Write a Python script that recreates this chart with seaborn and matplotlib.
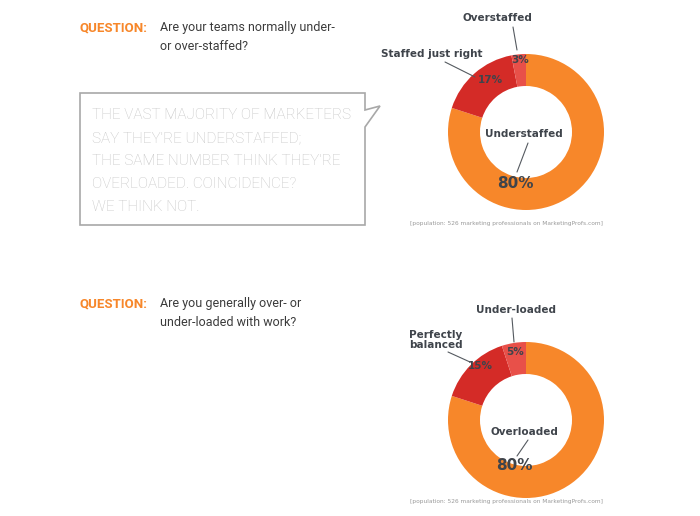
import matplotlib
matplotlib.use("Agg")
import matplotlib.pyplot as plt
import seaborn as sns
from matplotlib.patches import Polygon

sns.set_theme(style="white")

chart1_labels = ["Understaffed", "Staffed just right", "Overstaffed"]
chart1_values = [80, 17, 3]
chart2_labels = ["Overloaded", "Perfectly\nbalanced", "Under-loaded"]
chart2_values = [80, 15, 5]
colors = ["#F7872A", "#D42B27", "#E85049"]
footnote = "[population: 526 marketing professionals on MarketingProfs.com]"

W, H = 700, 516
fig = plt.figure(figsize=(7, 5.16), dpi=100)

def add_donut(cx, cy, values):
    r = 78
    ax = fig.add_axes([(cx - r) / W, 1 - (cy + r) / H, 2 * r / W, 2 * r / H])
    ax.pie(values, colors=colors, startangle=90, counterclock=False,
           wedgeprops=dict(width=32 / 78, edgecolor="none"))
    ax.set_aspect("equal"); ax.set_xlim(-1, 1); ax.set_ylim(-1, 1)

add_donut(526, 132, chart1_values)
add_donut(526, 420, chart2_values)

bg = fig.add_axes([0, 0, 1, 1])
bg.set_xlim(0, W); bg.set_ylim(H, 0); bg.axis("off")
bg.patch.set_alpha(0)

def annotate(values, labels, pos):
    for (lab, val, (lx, ly), (px, py), (a, b, c, d), big) in zip(labels, values, pos["lab"], pos["pct"], pos["line"], pos["big"]):
        bg.plot([a, c], [b, d], color="#555a60", lw=0.8)
        bg.text(lx, ly, lab, ha="center", va="center", fontsize=7.5, fontweight="bold",
                color="#3f444b", family="DejaVu Sans", linespacing=1.0)
        bg.text(px, py, f"{val}%", ha="center", va="center", fontsize=11 if big else 7.5,
                fontweight="bold", color="#3f444b")

annotate(chart1_values, chart1_labels, dict(
    lab=[(524, 134), (432, 54), (497, 18)],
    pct=[(515, 183), (490, 80), (520, 60)],
    line=[(528, 143, 517, 172), (445, 62, 475, 77), (513, 27, 517, 50)],
    big=[True, False, False]))
annotate(chart2_values, chart2_labels, dict(
    lab=[(524, 432), (436, 340), (516, 310)],
    pct=[(514, 466), (480, 366), (515, 352)],
    line=[(528, 440, 517, 456), (448, 352, 470, 362), (512, 318, 514, 342)],
    big=[True, False, False]))

for y in (224, 502):
    bg.text(506, y, footnote, ha="center", va="center", fontsize=4.2, color="#9a9a9a")

def question(y, line1, line2):
    bg.text(80, y, "QUESTION:", ha="left", va="center", fontsize=9.5, fontweight="bold",
            color="#F7872A", family="Roboto")
    bg.text(160, y, line1, ha="left", va="center", fontsize=9, color="#3a3a3a", family="Roboto")
    bg.text(160, y + 18, line2, ha="left", va="center", fontsize=9, color="#3a3a3a", family="Roboto")

question(28, "Are your teams normally under-", "or over-staffed?")
question(304, "Are you generally over- or", "under-loaded with work?")

box = Polygon([(80, 93), (365, 93), (365, 110), (380, 106), (365, 127), (365, 225), (80, 225)],
              closed=True, fill=False, edgecolor="#a8a8a8", lw=1.2)
bg.add_patch(box)
box_lines = ["THE VAST MAJORITY OF MARKETERS", "SAY THEY'RE UNDERSTAFFED;",
             "THE SAME NUMBER THINK THEY'RE", "OVERLOADED. COINCIDENCE?", "WE THINK NOT."]
for i, t in enumerate(box_lines):
    bg.text(92, 115 + i * 23, t, ha="left", va="center", fontsize=11, color="#c4c4c4",
            family="Roboto", fontweight="light")

fig.savefig("out.png", dpi=100)
